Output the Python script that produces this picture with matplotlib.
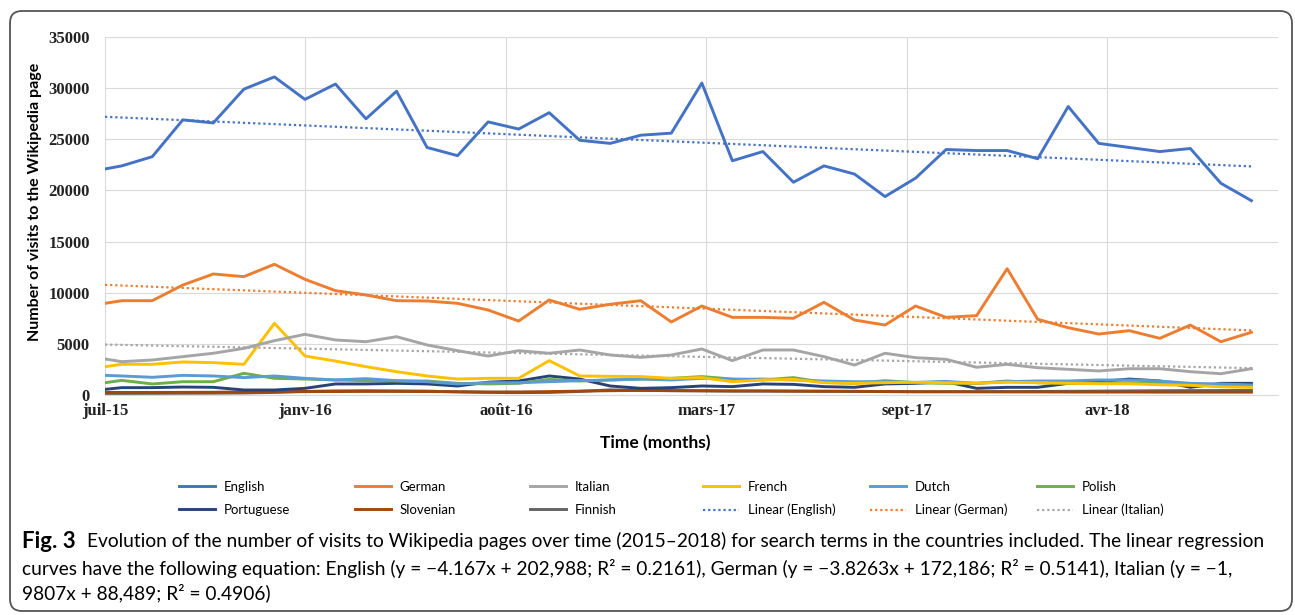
import numpy as np
import pandas as pd
import matplotlib
matplotlib.use("Agg")
import matplotlib.pyplot as plt
from matplotlib.patches import FancyBboxPatch

# dates of the points: first on 1 July 2015, then roughly monthly
dates = pd.DatetimeIndex([pd.Timestamp("2015-07-01")]).append(
    pd.date_range("2015-07-18", periods=38, freq="31D"))

english = [22100, 22400, 23300, 26900, 26600, 29900, 31100, 28900, 30400, 27000,
           29700, 24200, 23400, 26700, 26000, 27600, 24900, 24600, 25400, 25600,
           30500, 22900, 23800, 20800, 22400, 21600, 19400, 21200, 24000, 23900,
           23900, 23100, 28200, 24600, 24200, 23800, 24100, 20700, 19000]
german = [8960, 9220, 9220, 10750, 11830, 11570, 12780, 11310, 10200, 9780,
          9220, 9190, 8960, 8310, 7230, 9290, 8380, 8870, 9220, 7140,
          8700, 7590, 7590, 7500, 9060, 7330, 6840, 8700, 7590, 7760,
          12350, 7400, 6580, 5960, 6290, 5540, 6840, 5210, 6130]
italian = [3520, 3260, 3420, 3750, 4080, 4560, 5310, 5930, 5380, 5210,
           5700, 4890, 4330, 3810, 4330, 4080, 4400, 3910, 3680, 3910,
           4500, 3360, 4400, 4400, 3750, 2930, 4080, 3650, 3490, 2710,
           3000, 2670, 2510, 2350, 2570, 2570, 2280, 2080, 2570]
french = [2770, 3000, 3000, 3230, 3160, 3000, 7010, 3810, 3320, 2770,
          2280, 1860, 1560, 1630, 1630, 3360, 1860, 1830, 1800, 1630,
          1700, 1300, 1470, 1530, 1200, 1140, 1200, 1250, 1200, 1150,
          1250, 1200, 1150, 1100, 1100, 1000, 950, 800, 750]
dutch = [1920, 1860, 1730, 1920, 1860, 1700, 1860, 1630, 1470, 1600,
         1400, 1300, 1080, 1200, 1200, 1300, 1400, 1470, 1560, 1470,
         1630, 1530, 1560, 1470, 1370, 1300, 1300, 1230, 1330, 1140,
         1300, 1370, 1370, 1470, 1470, 1370, 1140, 1080, 980]
polish = [1200, 1430, 1080, 1300, 1300, 2120, 1630, 1560, 1470, 1400,
          1370, 1370, 1140, 1080, 1140, 1530, 1370, 1470, 1560, 1630,
          1800, 1560, 1470, 1700, 1230, 1140, 1400, 1200, 1140, 1140,
          1370, 1200, 1140, 1140, 1200, 1140, 980, 880, 820]
portuguese = [550, 720, 720, 780, 750, 490, 490, 650, 1080, 1080,
              1140, 1080, 880, 1250, 1370, 1860, 1560, 880, 650, 720,
              880, 820, 1080, 1040, 820, 750, 1080, 1140, 1300, 650,
              750, 750, 1140, 1300, 1560, 1370, 750, 1140, 1140]
slovenian = [250, 250, 250, 260, 270, 300, 320, 330, 340, 350,
             350, 340, 320, 300, 300, 330, 380, 420, 450, 430,
             420, 400, 400, 380, 370, 360, 340, 320, 320, 310,
             300, 300, 290, 290, 290, 280, 280, 280, 280]
finnish = [150, 150, 160, 170, 180, 200, 250, 350, 400, 420,
           400, 380, 300, 250, 230, 250, 350, 500, 450, 420,
           400, 380, 380, 370, 360, 350, 330, 320, 320, 330,
           340, 350, 360, 380, 400, 420, 430, 440, 450]

# linear trend equations from the caption (x = Excel date serial)
trend_english = (-4.167, 202988)
trend_german = (-3.8263, 172186)
trend_italian = (-1.9807, 88489)

tick_labels = ["juil-15", "janv-16", "août-16", "mars-17", "sept-17", "avr-18"]

colors = {"English": "#4472C4", "German": "#ED7D31", "Italian": "#A5A5A5",
          "French": "#FFC000", "Dutch": "#5B9BD5", "Polish": "#70AD47",
          "Portuguese": "#264478", "Slovenian": "#9E480E", "Finnish": "#636363"}

fig = plt.figure(figsize=(12.95, 6.15), dpi=100)
ax = fig.add_axes([105 / 1295, 1 - 395 / 615, (1278 - 105) / 1295, (395 - 37) / 615])

series = [("English", english), ("German", german), ("Italian", italian),
          ("French", french), ("Dutch", dutch), ("Polish", polish),
          ("Portuguese", portuguese), ("Slovenian", slovenian), ("Finnish", finnish)]
lines = {}
for name, vals in reversed(series):
    lines[name], = ax.plot(dates, vals, color=colors[name], lw=2.1, label=name)

serial = (dates - pd.Timestamp("1899-12-30")).days.values
trend_lines = {}
for name, (a, b) in [("English", trend_english), ("German", trend_german),
                     ("Italian", trend_italian)]:
    trend_lines[name], = ax.plot(dates, a * serial + b, color=colors[name], lw=1.6,
                                 ls=(0, (1, 1.3)), label="Linear (%s)" % name)

start = pd.Timestamp("2015-07-01")
ticks = [start + pd.Timedelta(days=203.5 * k) for k in range(len(tick_labels))]
ax.set_xticks(ticks)
ax.set_xticklabels(tick_labels)
ax.set_xlim(start, start + pd.Timedelta(days=1191))
ax.set_ylim(0, 35000)
ax.set_yticks(range(0, 35001, 5000))
ax.grid(True, color="#D9D9D9", lw=0.8)
ax.set_axisbelow(True)
for s in ["top", "right", "left"]:
    ax.spines[s].set_visible(False)
ax.spines["bottom"].set_color("#D9D9D9")
ax.tick_params(length=0)
ax.tick_params(axis="y", pad=11)
ax.tick_params(axis="x", pad=6)
for lab in ax.get_xticklabels() + ax.get_yticklabels():
    lab.set_fontfamily("Liberation Serif")
    lab.set_fontweight("bold")
    lab.set_fontsize(12)
    lab.set_color("#222222")

fig.text(35 / 1295, 1 - 202 / 615, "Number of visits to the Wikipedia page", rotation=90,
         ha="center", va="center", fontfamily="Lato", fontweight="bold", fontsize=11.5)
fig.text(655 / 1295, 1 - 443 / 615, "Time (months)", ha="center", va="center",
         fontfamily="Lato", fontweight="bold", fontsize=12.5)

# legend: six evenly spaced columns of two entries
order = [lines["English"], lines["Portuguese"], lines["German"], lines["Slovenian"],
         lines["Italian"], lines["Finnish"], lines["French"], trend_lines["English"],
         lines["Dutch"], trend_lines["German"], lines["Polish"], trend_lines["Italian"]]
col_x = [179, 355, 530, 703, 870, 1037]
for c, x in enumerate(col_x):
    hs = order[2 * c:2 * c + 2]
    fig.legend(hs, [h.get_label() for h in hs], loc="center left",
               bbox_to_anchor=(x / 1295, 1 - 498.5 / 615), frameon=False,
               borderpad=0, borderaxespad=0, handlelength=2.7, handletextpad=0.7,
               labelspacing=0.85, prop={"family": "Lato", "size": 9.5})

# caption, font size fitted so the first line spans the frame
cap_font = "Lato"
line1 = ("Evolution of the number of visits to Wikipedia pages over time (2015\u20132018) "
         "for search terms in the countries included. The linear regression")
line2 = ("curves have the following equation: English (y = \u22124.167x + 202,988; R\u00b2 = 0.2161), "
         "German (y = \u22123.8263x + 172,186; R\u00b2 = 0.5141), Italian (y = \u22121,")
line3 = "9807x + 88,489; R\u00b2 = 0.4906)"

fig.canvas.draw()
r = fig.canvas.get_renderer()
# "Fig. 3" is drawn larger than the text and ends near x = 88
bold = fig.text(22 / 1295, 1 - 541 / 615, "Fig. 3", fontfamily=cap_font, fontweight="bold",
                fontsize=16, va="center")
bb = bold.get_window_extent(r)
x_text = bb.x1 + 11
fs = 14.0
for _ in range(3):
    t2 = fig.text(0, 0, line1, fontfamily=cap_font, fontsize=fs)
    w = t2.get_window_extent(r).width
    t2.remove()
    fs = fs * ((1265 - x_text) / w)

fig.text(x_text / 1295, 1 - 541 / 615, line1, fontfamily=cap_font, fontsize=fs, va="center")
fig.text(22 / 1295, 1 - 568 / 615, line2, fontfamily=cap_font, fontsize=fs, va="center")
fig.text(22 / 1295, 1 - 593 / 615, line3, fontfamily=cap_font, fontsize=fs, va="center")

frame = FancyBboxPatch((10, 4), 1282, 600, boxstyle="round,pad=0,rounding_size=12",
                       transform=None, fill=False, ec="#555555", lw=1.3)
fig.patches.append(frame)

fig.savefig("out.png", dpi=100)
